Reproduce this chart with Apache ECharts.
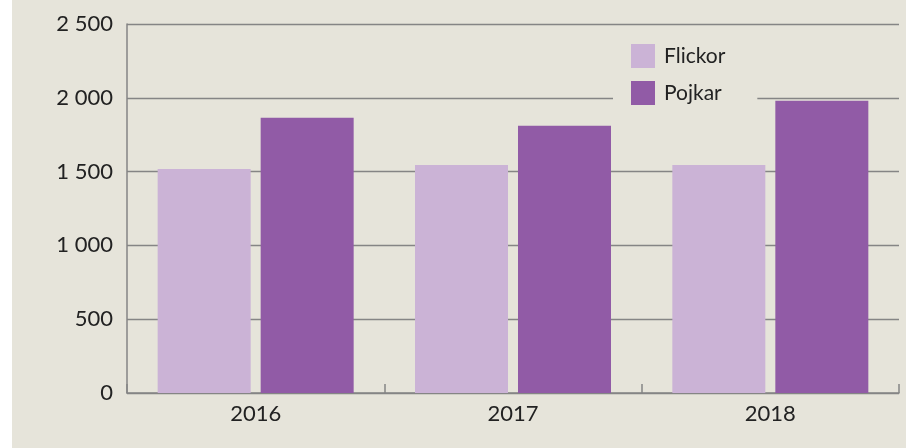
<!DOCTYPE html>
<html><head><meta charset="utf-8">
<script src="https://cdn.jsdelivr.net/npm/echarts@6/dist/echarts.min.js"></script>
<style>
html,body{margin:0;padding:0;background:#fff;}
#c{position:absolute;left:12px;top:0;width:894px;height:448px;}
</style></head>
<body><div id="c"></div>
<script>
const categories = ['2016', '2017', '2018'];
const flickor = [1518, 1545, 1545];
const pojkar = [1865, 1810, 1980];
const yTicks = [0, 500, 1000, 1500, 2000, 2500];

const chart = echarts.init(document.getElementById('c'));
const font = 'Lato, "Noto Sans", sans-serif';
chart.setOption({
  backgroundColor: '#e6e4da',
  animation: false,
  textStyle: {fontFamily: font},
  grid: {left: 115, right: 7, top: 24, bottom: 55},
  legend: {
    data: ['Flickor', 'Pojkar'],
    orient: 'vertical',
    left: 601,
    top: 34,
    itemWidth: 24,
    itemHeight: 24,
    itemGap: 13,
    icon: 'rect',
    backgroundColor: '#e6e4da',
    padding: [10, 32, 10, 18],
    textStyle: {fontFamily: font, fontSize: 21, color: '#222', padding: [0, 0, 0, 4]}
  },
  xAxis: {
    type: 'category',
    data: categories,
    axisLine: {lineStyle: {color: '#858585', width: 1.5}},
    axisTick: {show: true, inside: true, length: 9, lineStyle: {color: '#858585', width: 1.5}},
    axisLabel: {color: '#222', fontSize: 22, fontFamily: font, margin: 10}
  },
  yAxis: {
    type: 'value',
    min: 0, max: 2500, interval: 500,
    axisLine: {show: true, lineStyle: {color: '#858585', width: 1.5}},
    axisTick: {show: false},
    splitLine: {lineStyle: {color: '#858585', width: 1.3}},
    axisLabel: {
      color: '#222', fontSize: 22, fontFamily: font, margin: 14,
      formatter: v => yTicks.includes(v) ? String(v).replace(/\B(?=(\d{3})+(?!\d))/g, ' ') : ''
    }
  },
  series: [
    {name: 'Flickor', type: 'bar', data: flickor, barWidth: 93, barGap: '10.75%', itemStyle: {color: '#cbb3d6'}},
    {name: 'Pojkar', type: 'bar', data: pojkar, barWidth: 93, itemStyle: {color: '#915ba6'}}
  ]
});
</script></body></html>
